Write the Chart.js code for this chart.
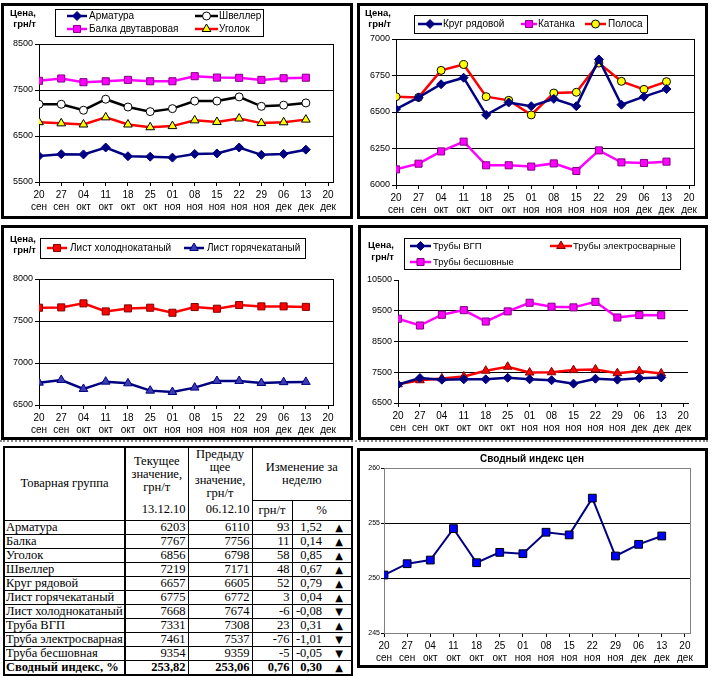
<!DOCTYPE html>
<html><head><meta charset="utf-8">
<script src="https://cdn.jsdelivr.net/npm/chart.js@4"></script>
<style>
html,body{margin:0;padding:0;background:#fff;}
body{position:relative;width:720px;height:676px;overflow:hidden;font-family:'Liberation Sans',Arial,sans-serif;}
.panel{position:absolute;box-sizing:border-box;border:3px solid #000;}
canvas{position:absolute;}
.sep{position:absolute;left:0;top:440px;width:708px;height:0;border-top:2px dotted #8a8a8a;}
#tbl{position:absolute;left:3px;top:446px;width:348px;border-collapse:collapse;table-layout:fixed;font-family:'Liberation Serif','Times New Roman',serif;font-size:12.5px;border:2px solid #000;}
#tbl td{border:1px solid #000;padding:0 2px;line-height:13px;white-space:nowrap;overflow:hidden;vertical-align:middle;}
#tbl tr.hA td{height:51px;text-align:center;}
#tbl tr.hB td{height:19px;text-align:center;}
#tbl tr.d td{height:13px;text-align:right;padding-top:0;padding-bottom:0;}
#tbl tr.d td.nm{text-align:left;padding-left:1px;}
#tbl td.c1{border-right:2px solid #000;}
#tbl td.nb{border-bottom:none;}
#tbl td.nt{border-top:none;}
#tbl td.pv{border-right:none;padding-right:5px;}
#tbl td.ar{border-left:none;text-align:center !important;font-family:'DejaVu Sans',sans-serif;font-size:10px;}
#tbl tr.tot td{font-weight:bold;}
</style>
</head><body>
<div class="panel" style="left:1px;top:3px;width:352px;height:216px"></div>
<div class="panel" style="left:357px;top:3px;width:351px;height:216px"></div>
<div class="panel" style="left:1px;top:225px;width:352px;height:215px"></div>
<div class="panel" style="left:358px;top:225px;width:350px;height:215px"></div>
<div class="panel" style="left:357px;top:448px;width:351px;height:220px"></div>
<div class="sep"></div>

<canvas id="c1" width="347" height="213" style="left:4px;top:4px"></canvas>
<canvas id="c2" width="346" height="213" style="left:359px;top:4px"></canvas>
<canvas id="c3" width="347" height="211" style="left:4px;top:226px"></canvas>
<canvas id="c4" width="346" height="211" style="left:359px;top:226px"></canvas>
<canvas id="c6" width="345" height="213" style="left:360px;top:452px"></canvas>

<table id="tbl">
<colgroup><col style="width:121px"><col style="width:63px"><col style="width:64px"><col style="width:40px"><col style="width:35px"><col style="width:25px"></colgroup>
<tbody id="tb"></tbody>
</table>

<script>
// ---------- categories ----------
const weekLabels  = ['20','27','04','11','18','25','01','08','15','22','29','06','13','20'];
const monthLabels = ['сен','сен','окт','окт','окт','окт','ноя','ноя','ноя','ноя','ноя','дек','дек','дек'];

// ---------- chart 1 ----------
const armatura = [6065, 6105, 6100, 6250, 6060, 6050, 6030, 6110, 6120, 6250, 6090, 6110, 6203];
const shveller = [7190, 7190, 7060, 7300, 7130, 7030, 7095, 7260, 7260, 7350, 7145, 7171, 7219];
const balka    = [7700, 7750, 7670, 7690, 7720, 7690, 7690, 7800, 7770, 7765, 7720, 7756, 7767];
const ugolok   = [6800, 6775, 6750, 6905, 6750, 6690, 6715, 6840, 6805, 6880, 6780, 6798, 6856];
const yTicks1  = [5500, 6500, 7500, 8500];

// ---------- chart 2 ----------
const krug     = [6520, 6600, 6690, 6735, 6480, 6565, 6540, 6590, 6540, 6860, 6550, 6605, 6657];
const katanka  = [6107, 6146, 6230, 6297, 6135, 6135, 6126, 6148, 6096, 6237, 6155, 6151, 6160];
const polosa   = [6605, 6600, 6785, 6825, 6605, 6580, 6480, 6630, 6635, 6835, 6710, 6655, 6708];
const yTicks2  = [6000, 6250, 6500, 6750, 7000];

// ---------- chart 3 ----------
const listHol  = [7658, 7662, 7710, 7614, 7650, 7658, 7598, 7666, 7646, 7690, 7674, 7674, 7668];
const listGor  = [6766, 6798, 6691, 6778, 6758, 6671, 6655, 6707, 6786, 6786, 6762, 6772, 6775];
const yTicks3  = [6500, 7000, 7500, 8000];

// ---------- chart 4 ----------
const trubyVgp  = [7100, 7310, 7260, 7270, 7270, 7320, 7270, 7240, 7130, 7290, 7260, 7308, 7331];
const trubyEl   = [7110, 7240, 7300, 7360, 7550, 7680, 7490, 7500, 7570, 7590, 7470, 7537, 7461];
const trubyBes  = [9240, 9020, 9370, 9520, 9150, 9480, 9760, 9630, 9610, 9790, 9280, 9359, 9354];
const yTicks4   = [6500, 7500, 8500, 9500, 10500];

// ---------- chart 6 ----------
const indexVals = [250.27, 251.30, 251.63, 254.49, 251.39, 252.33, 252.21, 254.16, 253.92, 257.26, 252.00, 253.06, 253.82];
const yTicks6   = [245, 250, 255, 260];

// ---------- table ----------
const tNames   = ['Арматура','Балка','Уголок','Швеллер','Круг рядовой','Лист горячекатаный','Лист холоднокатаный','Труба ВГП','Труба электросварная','Труба бесшовная','Сводный индекс, %'];
const tCurrent = ['6203','7767','6856','7219','6657','6775','7668','7331','7461','9354','253,82'];
const tPrev    = ['6110','7756','6798','7171','6605','6772','7674','7308','7537','9359','253,06'];
const tDiff    = ['93','11','58','48','52','3','-6','23','-76','-5','0,76'];
const tPct     = ['1,52','0,14','0,85','0,67','0,79','0,04','-0,08','0,31','-1,01','-0,05','0,30'];
const tDir     = ['▲','▲','▲','▲','▲','▲','▼','▲','▼','▼','▲'];

const FONT = "'Liberation Sans', Arial, sans-serif";

function drawMarker(c, style, x, y, r, fill, stroke, bw) {
  c.beginPath();
  if (style === 'circle') {
    c.arc(x, y, r, 0, Math.PI * 2);
  } else if (style === 'rect') {
    const s = r * Math.SQRT1_2;
    c.rect(x - s, y - s, 2 * s, 2 * s);
  } else if (style === 'rectRot') {
    c.moveTo(x - r, y); c.lineTo(x, y - r); c.lineTo(x + r, y); c.lineTo(x, y + r); c.closePath();
  } else if (style === 'triangle') {
    let a = 0;
    c.moveTo(x + Math.sin(a) * r, y - Math.cos(a) * r);
    a += 2 * Math.PI / 3; c.lineTo(x + Math.sin(a) * r, y - Math.cos(a) * r);
    a += 2 * Math.PI / 3; c.lineTo(x + Math.sin(a) * r, y - Math.cos(a) * r);
    c.closePath();
  }
  c.fillStyle = fill; c.fill();
  if (bw) { c.lineWidth = bw; c.strokeStyle = stroke; c.stroke(); }
}

const deco = {
  id: 'deco',
  beforeDatasetsDraw(chart, args, o) {
    if (!o || !o.frame) return;
    const a = chart.chartArea, c = chart.ctx;
    c.save(); c.strokeStyle = o.frame; c.lineWidth = 1;
    const l = Math.round(a.left), t = Math.round(a.top), r = Math.round(a.right), b = Math.round(a.bottom);
    c.strokeRect(l + 0.5, t + 0.5, r - l, b - t);
    c.restore();
  },
  afterDraw(chart, args, o) {
    if (!o) return;
    const c = chart.ctx; c.save();
    c.fillStyle = '#000';
    if (o.yTitle) {
      c.font = 'bold 9.5px ' + FONT; c.textAlign = 'right'; c.textBaseline = 'middle';
      c.fillText('Цена,', o.yTitle.x, o.yTitle.y1);
      c.fillText('грн/т', o.yTitle.x, o.yTitle.y2);
    }
    if (o.title) {
      c.font = 'bold 10px ' + FONT; c.textAlign = 'center'; c.textBaseline = 'middle';
      c.fillText(o.title.text, o.title.x, o.title.y);
    }
    if (o.box) {
      c.strokeStyle = '#000'; c.lineWidth = 1;
      c.strokeRect(o.box[0] + 0.5, o.box[1] + 0.5, o.box[2], o.box[3]);
    }
    (o.items || []).forEach(it => {
      const d = chart.data.datasets[it.ds];
      c.strokeStyle = d.borderColor; c.lineWidth = d.borderWidth;
      c.beginPath(); c.moveTo(it.x1, it.y); c.lineTo(it.x2, it.y); c.stroke();
      drawMarker(c, d.pointStyle, (it.x1 + it.x2) / 2, it.y, d.pointRadius, d.pointBackgroundColor, d.pointBorderColor, d.pointBorderWidth);
      c.fillStyle = '#000'; c.font = (o.fontSize || 10) + 'px ' + FONT; c.textAlign = 'left'; c.textBaseline = 'middle';
      c.fillText(d.label, it.tx, it.y + 0.5);
    });
    c.restore();
  }
};

function series(label, arr, color, style, radius, fill, border, lw) {
  return {
    label, data: arr.map((v, i) => ({ x: i, y: v })),
    borderColor: color, backgroundColor: color, borderWidth: lw || 2.5,
    pointStyle: style, pointRadius: radius, pointHoverRadius: radius,
    pointBackgroundColor: fill, pointBorderColor: border, pointBorderWidth: 1,
    tension: 0, fill: false
  };
}

function build(id, spec) {
  return new Chart(document.getElementById(id), {
    type: 'line',
    data: { datasets: spec.datasets },
    plugins: [deco],
    options: {
      responsive: false, animation: false, devicePixelRatio: 1,
      layout: { padding: { top: spec.padTop, right: spec.padRight, left: 0, bottom: 0 } },
      plugins: { legend: { display: false }, tooltip: { enabled: false }, deco: spec.deco },
      scales: {
        x: {
          type: 'linear', min: 0, max: 13.22,
          afterBuildTicks: s => { s.ticks = weekLabels.map((_, i) => ({ value: i })); },
          afterFit: s => { s.height = spec.xHeight; },
          ticks: {
            autoSkip: false, maxRotation: 0, minRotation: 0, padding: 3, color: '#000',
            font: { family: FONT, size: 10, lineHeight: 1.2 },
            callback: v => [weekLabels[Math.round(v)], monthLabels[Math.round(v)]]
          },
          grid: { drawOnChartArea: false, drawTicks: true, tickLength: 4, color: '#000' },
          border: { color: '#000', width: 1 }
        },
        y: {
          min: spec.yTicks[0], max: spec.yTicks[spec.yTicks.length - 1],
          afterBuildTicks: s => { s.ticks = spec.yTicks.map(v => ({ value: v })); },
          afterFit: s => { s.width = spec.yWidth; },
          ticks: { padding: spec.yPad == null ? 2 : spec.yPad, color: '#000', font: { family: FONT, size: spec.yFont || 9 }, callback: v => String(v) },
          grid: { color: spec.gridColor || '#000', tickColor: '#000', tickLength: spec.yTick || 4, lineWidth: 1 },
          border: { color: '#000', width: 1 }
        }
      }
    }
  });
}

const NAVY = '#000080', MAG = '#FF00FF', RED = '#FF0000', YEL = '#FFFF00';

build('c1', {
  yTicks: yTicks1, yWidth: 35, xHeight: 35, padTop: 40, padRight: 18,
  datasets: [
    series('Арматура', armatura, NAVY, 'rectRot', 4.5, NAVY, NAVY),
    series('Швеллер', shveller, '#000', 'circle', 4, '#fff', '#000'),
    series('Балка двутавровая', balka, MAG, 'rect', 5, MAG, '#800080'),
    series('Уголок', ugolok, RED, 'triangle', 5, YEL, '#000')
  ],
  deco: {
    frame: '#000', fontSize: 10,
    yTitle: { x: 32, y1: 9, y2: 20.5 },
    box: [51, 5, 208, 27],
    items: [
      { ds: 0, x1: 63, x2: 83, tx: 85, y: 12 },
      { ds: 1, x1: 191, x2: 214, tx: 215, y: 12 },
      { ds: 2, x1: 63, x2: 83, tx: 85, y: 25 },
      { ds: 3, x1: 191, x2: 214, tx: 215, y: 25 }
    ]
  }
});

build('c2', {
  yTicks: yTicks2, yWidth: 37, xHeight: 32, padTop: 35, padRight: 11,
  datasets: [
    series('Круг рядовой', krug, NAVY, 'rectRot', 4.5, NAVY, NAVY),
    series('Катанка', katanka, MAG, 'rect', 5, MAG, '#800080'),
    series('Полоса', polosa, RED, 'circle', 4, YEL, '#000')
  ],
  deco: {
    frame: '#000', fontSize: 10,
    yTitle: { x: 32, y1: 9, y2: 20.5 },
    box: [55, 11, 233, 18],
    items: [
      { ds: 0, x1: 59, x2: 83, tx: 84, y: 20 },
      { ds: 1, x1: 162, x2: 178, tx: 179, y: 20 },
      { ds: 2, x1: 226, x2: 247, tx: 249, y: 20 }
    ]
  }
});

build('c3', {
  yTicks: yTicks3, yWidth: 35, xHeight: 32, padTop: 53, padRight: 18,
  datasets: [
    series('Лист холоднокатаный', listHol, RED, 'rect', 5, RED, '#800000'),
    series('Лист горячекатаный', listGor, NAVY, 'triangle', 5, '#3C3CB4', NAVY)
  ],
  deco: {
    frame: '#000', fontSize: 10,
    yTitle: { x: 32, y1: 13, y2: 24 },
    box: [36, 12, 265, 20],
    items: [
      { ds: 0, x1: 43, x2: 63, tx: 66, y: 22 },
      { ds: 1, x1: 180, x2: 200, tx: 203, y: 22 }
    ]
  }
});

build('c4', {
  yTicks: yTicks4, yWidth: 39, xHeight: 34, padTop: 54, padRight: 17,
  gridColor: ctx => (ctx.tick && ctx.tick.value === 10500) ? 'rgba(0,0,0,0)' : '#000',
  datasets: [
    series('Трубы ВГП', trubyVgp, NAVY, 'rectRot', 4.5, NAVY, NAVY),
    series('Трубы электросварные', trubyEl, RED, 'triangle', 5, RED, '#800000'),
    series('Трубы бесшовные', trubyBes, MAG, 'rect', 5, MAG, '#800080')
  ],
  deco: {
    fontSize: 9.5,
    yTitle: { x: 35, y1: 19.5, y2: 31 },
    box: [45, 12, 276, 31],
    items: [
      { ds: 0, x1: 51, x2: 72, tx: 74, y: 20 },
      { ds: 1, x1: 191, x2: 213, tx: 214, y: 20 },
      { ds: 2, x1: 51, x2: 72, tx: 74, y: 36 }
    ]
  }
});

build('c6', {
  yTicks: yTicks6, yWidth: 24, xHeight: 32, padTop: 16, padRight: 15, yFont: 7, yTick: 3, yPad: 1,
  datasets: [
    series('Сводный индекс цен', indexVals, NAVY, 'rect', 5.5, '#0000FF', '#000', 2)
  ],
  deco: {
    frame: '#808080',
    title: { text: 'Сводный индекс цен', x: 172, y: 7.5 }
  }
});

// ---------- table ----------
(function () {
  const tb = document.getElementById('tb');
  let h = '';
  h += '<tr class="hA"><td class="c1" rowspan="2">Товарная группа</td>' +
       '<td class="nb">Текущее<br>значение,<br>грн/т</td>' +
       '<td class="nb">Предыду<br>щее<br>значение,<br>грн/т</td>' +
       '<td colspan="3">Изменение за<br>неделю</td></tr>';
  h += '<tr class="hB"><td class="nt" style="text-align:right">13.12.10</td>' +
       '<td class="nt" style="text-align:right">06.12.10</td>' +
       '<td>грн/т</td><td colspan="2">%</td></tr>';
  tNames.forEach((n, i) => {
    const cls = i === tNames.length - 1 ? 'd tot' : 'd';
    h += '<tr class="' + cls + '"><td class="nm c1">' + n + '</td><td>' + tCurrent[i] + '</td><td>' + tPrev[i] +
         '</td><td>' + tDiff[i] + '</td><td class="pv">' + tPct[i] + '</td><td class="ar">' + tDir[i] + '</td></tr>';
  });
  tb.innerHTML = h;
})();
</script>
</body></html>
